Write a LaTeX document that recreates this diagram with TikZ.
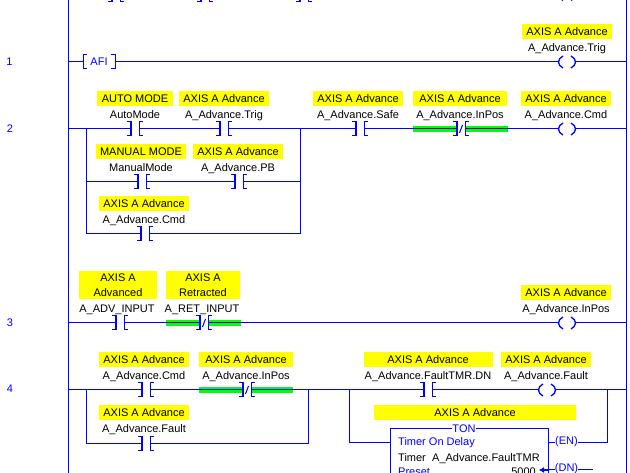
\documentclass[tikz,border=0pt]{standalone}
\usepackage{fontspec}
\setmainfont{Liberation Sans}
\usetikzlibrary{arrows.meta}
\definecolor{ladblue}{RGB}{0,0,255}
\definecolor{powered}{RGB}{0,255,0}
\definecolor{descyellow}{RGB}{255,255,0}

\begin{document}
\begin{tikzpicture}[
    x=1pt, y=-1pt,
    every node/.style={font=\fontsize{11}{13}\selectfont, inner sep=0pt},
    rail/.style={draw=ladblue, line width=1pt},
    wire/.style={draw=ladblue, line width=1pt},
    bracket/.style={draw=ladblue, line width=1pt},
    powerflow/.style={fill=powered},
    desc/.style={fill=descyellow, anchor=base, inner xsep=4.5pt, inner ysep=3pt, text height=8pt, text depth=0.5pt},
    desc2/.style={fill=descyellow, align=center, minimum height=28pt, font=\fontsize{11}{15}\selectfont},
    tag/.style={anchor=base},
    rungnum/.style={text=ladblue},
    bluetext/.style={text=ladblue, anchor=base west},
    blacktext/.style={anchor=base west},
    xic/.pic={
      \draw[bracket] (-8,-7) -- (-4,-7) -- (-4,7) -- (-8,7);
      \draw[bracket] (8,-7) -- (4,-7) -- (4,7) -- (8,7);
      \draw[bracket, line width=1.8pt] (-4.4,-7) -- (-4.4,7) (4.4,-7) -- (4.4,7);
      \coordinate (-w) at (-4,0);
      \coordinate (-e) at (4,0);
    },
    xio/.pic={
      \draw[bracket] (-8,-7) -- (-4,-7) -- (-4,7) -- (-8,7);
      \draw[bracket] (8,-7) -- (4,-7) -- (4,7) -- (8,7);
      \draw[bracket, line width=1.8pt] (-4.4,-7) -- (-4.4,7) (4.4,-7) -- (4.4,7);
      \draw[wire] (-1.5,4) -- (1.5,-4); % the slash of a normally closed contact
      \coordinate (-w) at (-4,0);
      \coordinate (-e) at (4,0);
    },
    ote/.pic={
      \draw[bracket, line width=1.3pt] (-4,-6) .. controls (-10,-3) and (-10,3) .. (-4,6);
      \draw[bracket, line width=1.3pt] (4,-6) .. controls (10,-3) and (10,3) .. (4,6);
      \coordinate (-w) at (-8.5,0);
      \coordinate (-e) at (8.5,0);
    }
    ]
    \useasboundingbox (0,0) rectangle (630,473);
    \clip (0,0) rectangle (630,473);

    % green power flow under the closed contacts
    \fill[powerflow] (413,126) rectangle (457,132);
    \fill[powerflow] (466,126) rectangle (508,132);
    \fill[powerflow] (166,320) rectangle (200,326);
    \fill[powerflow] (209,320) rectangle (241,326);
    \fill[powerflow] (199,387) rectangle (243,393);
    \fill[powerflow] (252,387) rectangle (293,393);

    % power rails
    \coordinate (Ltop) at (68,0);
    \coordinate (Lbot) at (68,473);
    \coordinate (Rtop) at (626,0);
    \coordinate (Rbot) at (626,473);
    \draw[rail] (Ltop) -- (Lbot);
    \draw[rail] (Rtop) -- (Rbot);

    % rung above, cut by the top edge
    \pic (p1) at (116,-5.5) {xic};
    \pic (p2) at (205,-5.5) {xic};
    \pic (p3) at (304,-5.5) {xic};
    \pic (p4) at (567,-5.5) {ote};

    % rung 1
    \node[rungnum] (n1) at (9.5,62) {1};
    \coordinate (L1) at (68,62);
    \coordinate (R1) at (626,62);
    \coordinate (afi-w) at (83,62);
    \coordinate (afi-e) at (115,62);
    \draw[bracket] (87,55) -- (83,55) -- (83,69) -- (87,69);
    \draw[bracket] (111,55) -- (115,55) -- (115,69) -- (111,69);
    \node[rungnum] (afi) at (99,62) {AFI};
    \pic (trig1) at (567,62) {ote};
    \node[tag] (trig1-tag) at (567,51.5) {A\_Advance.Trig};
    \node[desc] (trig1-desc) at (567,35.5) {AXIS A Advance};
    \draw[wire] (L1) -- (afi-w) (afi-e) -- (trig1-w) (trig1-e) -- (R1);

    % rung 2
    \node[rungnum] (n2) at (10,129) {2};
    \coordinate (L2) at (68,129);
    \coordinate (R2) at (626,129);
    \coordinate (b2l) at (86,129);
    \coordinate (b2r) at (300,129);
    \pic (auto) at (135,129) {xic};
    \node[tag] (auto-tag) at (135,118.5) {AutoMode};
    \node[desc] (auto-desc) at (135,102.5) {AUTO MODE};
    \pic (trig2) at (224,129) {xic};
    \node[tag] (trig2-tag) at (224,118.5) {A\_Advance.Trig};
    \node[desc] (trig2-desc) at (224,102.5) {AXIS A Advance};
    \pic (safe) at (360,129) {xic};
    \node[tag] (safe-tag) at (358,118.5) {A\_Advance.Safe};
    \node[desc] (safe-desc) at (358,102.5) {AXIS A Advance};
    \pic (inpos2) at (461,129) {xio};
    \node[tag] (inpos2-tag) at (460,118.5) {A\_Advance.InPos};
    \node[desc, minimum width=94pt] (inpos2-desc) at (460,102.5) {AXIS A Advance};
    \pic (cmd2) at (567,129) {ote};
    \node[tag] (cmd2-tag) at (566,118.5) {A\_Advance.Cmd};
    \node[desc] (cmd2-desc) at (566,102.5) {AXIS A Advance};
    \pic (manual) at (142,182) {xic};
    \node[tag] (manual-tag) at (141,171.5) {ManualMode};
    \node[desc] (manual-desc) at (141,155.5) {MANUAL MODE};
    \pic (pb) at (239,182) {xic};
    \node[tag] (pb-tag) at (238,171.5) {A\_Advance.PB};
    \node[desc] (pb-desc) at (238,155.5) {AXIS A Advance};
    \pic (cmd2b) at (145,234) {xic};
    \node[tag] (cmd2b-tag) at (144,223.5) {A\_Advance.Cmd};
    \node[desc] (cmd2b-desc) at (144,207.5) {AXIS A Advance};
    \draw[wire] (L2) -- (auto-w) (auto-e) -- (trig2-w) (trig2-e) -- (safe-w)
      (safe-e) -- (inpos2-w) (inpos2-e) -- (cmd2-w) (cmd2-e) -- (R2);
    \draw[wire] (b2l) |- (manual-w) (manual-e) -- (pb-w) (pb-e) -| (b2r);
    \draw[wire] (b2l) |- (cmd2b-w) (cmd2b-e) -| (b2r);

    % rung 3
    \node[rungnum] (n3) at (10,323) {3};
    \coordinate (L3) at (68,323);
    \coordinate (R3) at (626,323);
    \pic (adv) at (120,323) {xic};
    \node[tag] (adv-tag) at (117,312.5) {A\_ADV\_INPUT};
    \node[desc2, minimum width=78pt] (adv-desc) at (118,285) {AXIS A\\Advanced};
    \pic (ret) at (204,323) {xio};
    \node[tag] (ret-tag) at (202,312.5) {A\_RET\_INPUT};
    \node[desc2, minimum width=74pt] (ret-desc) at (203,285) {AXIS A\\Retracted};
    \pic (inpos3) at (567,323) {ote};
    \node[tag] (inpos3-tag) at (566,312.5) {A\_Advance.InPos};
    \node[desc] (inpos3-desc) at (566,296.5) {AXIS A Advance};
    \draw[wire] (L3) -- (adv-w) (adv-e) -- (ret-w) (ret-e) -- (inpos3-w) (inpos3-e) -- (R3);

    % rung 4
    \node[rungnum] (n4) at (10,389) {4};
    \coordinate (L4) at (68,390);
    \coordinate (R4) at (626,390);
    \coordinate (b4a) at (86,390);
    \coordinate (b4b) at (308,390);
    \coordinate (b4c) at (349,390);
    \coordinate (b4d) at (607,390);
    \pic (cmd4) at (146,390) {xic};
    \node[tag] (cmd4-tag) at (144,379.5) {A\_Advance.Cmd};
    \node[desc] (cmd4-desc) at (144,363.5) {AXIS A Advance};
    \pic (inpos4) at (247,390) {xio};
    \node[tag] (inpos4-tag) at (246,379.5) {A\_Advance.InPos};
    \node[desc, minimum width=94pt] (inpos4-desc) at (246,363.5) {AXIS A Advance};
    \pic (flt4) at (146,443) {xic};
    \node[tag] (flt4-tag) at (144,432.5) {A\_Advance.Fault};
    \node[desc] (flt4-desc) at (144,416.5) {AXIS A Advance};
    \pic (fltdn) at (428,390) {xic};
    \node[tag] (fltdn-tag) at (428,379.5) {A\_Advance.FaultTMR.DN};
    \node[desc, minimum width=129pt] (fltdn-desc) at (428,363.5) {AXIS A Advance};
    \pic (fault) at (547,390) {ote};
    \node[tag] (fault-tag) at (546,379.5) {A\_Advance.Fault};
    \node[desc] (fault-desc) at (546,363.5) {AXIS A Advance};

    % timer block
    \node[desc, minimum width=202pt] (ton-desc) at (475,416.5) {AXIS A Advance};
    \node[draw=ladblue, line width=1pt, anchor=north west, minimum width=158pt, minimum height=80pt] (ton) at (390,428) {};
    \node[fill=white, text=ladblue, inner xsep=0.5pt, inner ysep=1pt] (ton-title) at (464,429) {TON};
    \node[bluetext] (ton-type) at (398,446) {Timer On Delay};
    \node[blacktext] (ton-timer) at (398,461) {Timer};
    \node[blacktext] (ton-tmr) at (432,461) {A\_Advance.FaultTMR};
    \node[bluetext] (ton-preset) at (398,475.5) {Preset};
    \node[anchor=base east] (ton-pre) at (536,475.5) {5000};
    \node[text=ladblue] (en) at (566.5,442) {(EN)};
    \node[text=ladblue] (dn) at (566.5,469) {(DN)};
    \coordinate (presetptr) at (539,470);
    \coordinate (dnend) at (593,469);

    \draw[wire] (L4) -- (cmd4-w) (cmd4-e) -- (inpos4-w) (inpos4-e) -- (fltdn-w)
      (fltdn-e) -- (fault-w) (fault-e) -- (R4);
    \draw[wire] (b4a) |- (flt4-w) (flt4-e) -| (b4b);
    \draw[wire] (b4c) |- (ton.west |- en);
    \draw[wire] (ton.east |- en) -- (en.west) (en.east) -| (b4d);
    \draw[wire] (ton.east |- dn) -- (dn.west) (dn.east) -- (dnend);
    \draw[draw=ladblue, line width=1.5pt, -{Latex[length=5pt,width=6pt]}] (ton.east |- presetptr) -- (presetptr);
\end{tikzpicture}
\end{document}
